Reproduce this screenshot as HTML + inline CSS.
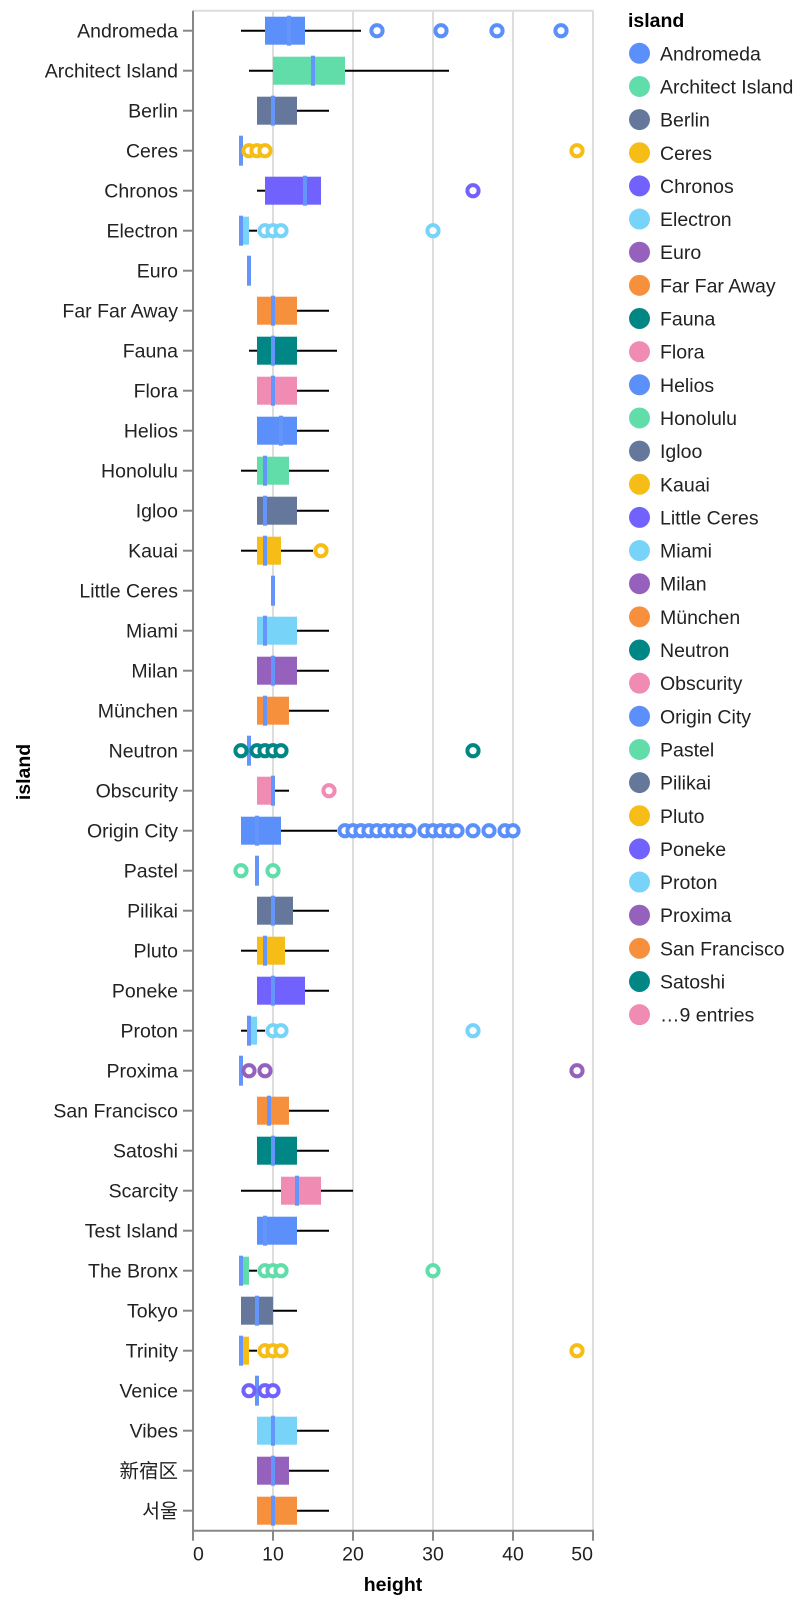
<!DOCTYPE html>
<html><head><meta charset="utf-8"><style>
html,body{margin:0;padding:0;background:#fff;}
svg{display:block;font-family:"Liberation Sans","Noto Sans CJK SC","Noto Sans CJK KR",sans-serif;}
</style></head><body>
<svg id="chart" width="808" height="1604" viewBox="0 0 808 1604" xmlns="http://www.w3.org/2000/svg"></svg>
<script>
const categories = ["Andromeda","Architect Island","Berlin","Ceres","Chronos","Electron","Euro","Far Far Away","Fauna","Flora","Helios","Honolulu","Igloo","Kauai","Little Ceres","Miami","Milan","München","Neutron","Obscurity","Origin City","Pastel","Pilikai","Pluto","Poneke","Proton","Proxima","San Francisco","Satoshi","Scarcity","Test Island","The Bronx","Tokyo","Trinity","Venice","Vibes","新宿区","서울"];
const whiskerLow = [6,7,8,6,8,6,7,8,7,8,8,6,8,6,10,8,8,8,7,8,6,8,8,6,8,6,6,8,8,6,8,6,6,6,8,8,8,8];
const q1 =        [9,10,8,6,9,6,7,8,8,8,8,8,8,8,10,8,8,8,7,8,6,8,8,8,8,7,6,8,8,11,8,6,6,6,8,8,8,8];
const medians =   [12,15,10,6,14,6,7,10,10,10,11,9,9,9,10,9,10,9,7,10,8,8,10,9,10,7,6,9.5,10,13,9,6,8,6,8,10,10,10];
const q3 =        [14,19,13,6,16,7,7,13,13,13,13,12,13,11,10,13,13,12,7,10,11,8,12.5,11.5,14,8,6,12,13,16,13,7,10,7,8,13,12,13];
const whiskerHigh=[21,32,17,6,16,8,7,17,18,17,17,17,17,15,10,17,17,17,7,12,18,8,17,17,17,9,6,17,17,20,17,8,13,8,8,17,17,17];
const outliers = {
 "Andromeda":[23,31,38,46], "Ceres":[7,8,9,48], "Chronos":[35], "Electron":[9,10,11,30],
 "Kauai":[16], "Neutron":[6,8,9,10,11,35], "Obscurity":[17],
 "Origin City":[19,20,21,22,23,24,25,26,27,29,30,31,32,33,35,37,39,40],
 "Pastel":[6,10], "Proton":[10,11,35], "Proxima":[7,9,48], "The Bronx":[9,10,11,30],
 "Trinity":[9,10,11,48], "Venice":[7,9,10]
};
const xTicks = [0,10,20,30,40,50];
const legendLabels = ["Andromeda","Architect Island","Berlin","Ceres","Chronos","Electron","Euro","Far Far Away","Fauna","Flora","Helios","Honolulu","Igloo","Kauai","Little Ceres","Miami","Milan","München","Neutron","Obscurity","Origin City","Pastel","Pilikai","Pluto","Poneke","Proton","Proxima","San Francisco","Satoshi","…9 entries"];
const palette = ["#5B8FF9","#61DDAA","#65789B","#F6BD16","#7262FD","#78D3F8","#9661BC","#F6903D","#008685","#F08BB4"];

const NS="http://www.w3.org/2000/svg";
const svg=document.getElementById('chart');
const X0=193, X1=593, TOP=10.7, STEP=40;
const x=v=>X0+(v/50)*(X1-X0);
const y=i=>TOP+STEP*i+STEP/2;
function el(tag,attrs,parent){const e=document.createElementNS(NS,tag);for(const k in attrs)e.setAttribute(k,attrs[k]);(parent||svg).appendChild(e);return e;}
const FS=19.5;

const grid=el('g',{});


xTicks.forEach(t=>{ if(t>0){const l=el('line',{x1:x(t),x2:x(t),y1:TOP,y2:TOP+STEP*categories.length,stroke:'#ddd','stroke-width':2},grid);
 
 }});
el('line',{x1:X0,x2:X1,y1:TOP,y2:TOP,stroke:'#ddd','stroke-width':2},grid);

const marks=el('g',{});


categories.forEach((c,i)=>{
 const col=palette[i%10], cy=y(i);
 const g=el('g',{},marks);
 
 
 if(whiskerLow[i]<q1[i]){const w=el('line',{x1:x(whiskerLow[i]),x2:x(q1[i]),y1:cy,y2:cy,stroke:'#000','stroke-width':2},g);
  
  }
 if(whiskerHigh[i]>q3[i]){const w=el('line',{x1:x(q3[i]),x2:x(whiskerHigh[i]),y1:cy,y2:cy,stroke:'#000','stroke-width':2},g);
  
  }
 if(q3[i]>q1[i]){const r=el('rect',{x:x(q1[i]),y:cy-14,width:x(q3[i])-x(q1[i]),height:28,fill:col},g);
  
  }
 const m=el('rect',{x:x(medians[i])-2,y:cy-15,width:4,height:30,fill:'#6395FA'},g);
 
 
 (outliers[c]||[]).forEach(v=>{const o=el('circle',{cx:x(v),cy:cy,r:5.6,fill:'#fff',stroke:col,'stroke-width':4},g);
  
  });
});

const ya=el('g',{});


el('line',{x1:X0,x2:X0,y1:TOP,y2:TOP+STEP*categories.length+1,stroke:'#888','stroke-width':2},ya);
categories.forEach((c,i)=>{
 el('line',{x1:X0-10,x2:X0,y1:y(i),y2:y(i),stroke:'#888','stroke-width':2},ya);
 const t=el('text',{x:X0-15,y:y(i)+7,'text-anchor':'end','font-size':FS,fill:'#222'},ya);
 t.textContent=c;
 
 
});
const yt=el('text',{x:0,y:0,transform:'translate(30,772) rotate(-90)','text-anchor':'middle','font-size':FS,'font-weight':'bold',fill:'#000'},ya);
yt.textContent='island';



const BOT=TOP+STEP*categories.length;
const xa=el('g',{});


el('line',{x1:X0-1,x2:X1+1,y1:BOT,y2:BOT,stroke:'#888','stroke-width':2},xa);
xTicks.forEach((t,k)=>{
 el('line',{x1:x(t),x2:x(t),y1:BOT,y2:BOT+10,stroke:'#888','stroke-width':2},xa);
 const anchor=k===0?'start':(k===xTicks.length-1?'end':'middle');
 const tx=el('text',{x:x(t),y:BOT+30,'text-anchor':anchor,'font-size':FS,fill:'#222'},xa);
 tx.textContent=t;
 
 
});
const xt=el('text',{x:(X0+X1)/2,y:1591,'text-anchor':'middle','font-size':FS,'font-weight':'bold',fill:'#000'},xa);
xt.textContent='height';



const lg=el('g',{});


const lt=el('text',{x:628,y:27,'font-size':FS,'font-weight':'bold',fill:'#000'},lg);
lt.textContent='island';


legendLabels.forEach((l,k)=>{
 const cy=53.3+33.15*k;
 const e=el('g',{},lg);
 
 
 el('circle',{cx:639.5,cy:cy,r:10.5,fill:palette[k%10]},e);
 const t=el('text',{x:660,y:cy+7,'font-size':FS,fill:'#222'},e);
 t.textContent=l;
});
</script>
</body></html>
